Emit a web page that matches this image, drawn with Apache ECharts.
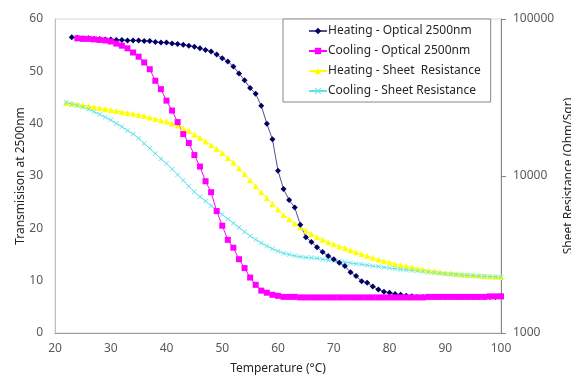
<!DOCTYPE html>
<html>
<head>
<meta charset="utf-8">
<script src="https://cdn.jsdelivr.net/npm/echarts@6/dist/echarts.min.js"></script>
<style>
  html, body { margin: 0; padding: 0; background: #fff; }
  #chart { width: 571px; height: 376px; }
</style>
</head>
<body>
<div id="chart"></div>
<script>
// temperatures (°C)
const heatOptT = [23, 24, 25, 26, 27, 28, 29, 30, 31, 32, 33, 34, 35, 36, 37, 38, 39, 40, 41, 42, 43, 44, 45, 46, 47, 48, 49, 50, 51, 52, 53, 54, 55, 56, 57, 58, 59, 60, 61, 62, 63, 64, 65, 66, 67, 68, 69, 70, 71, 72, 73, 74, 75, 76, 77, 78, 79, 80, 81, 82, 83, 84, 85, 86, 87, 88, 89, 90, 91, 92, 93, 94, 95, 96, 97, 98, 99, 100];
const coolOptT = [24, 25, 26, 27, 28, 29, 30, 31, 32, 33, 34, 35, 36, 37, 38, 39, 40, 41, 42, 43, 44, 45, 46, 47, 48, 49, 50, 51, 52, 53, 54, 55, 56, 57, 58, 59, 60, 61, 62, 63, 64, 65, 66, 67, 68, 69, 70, 71, 72, 73, 74, 75, 76, 77, 78, 79, 80, 81, 82, 83, 84, 85, 86, 87, 88, 89, 90, 91, 92, 93, 94, 95, 96, 97, 98, 99, 100];
const sheetT = [22, 23, 24, 25, 26, 27, 28, 29, 30, 31, 32, 33, 34, 35, 36, 37, 38, 39, 40, 41, 42, 43, 44, 45, 46, 47, 48, 49, 50, 51, 52, 53, 54, 55, 56, 57, 58, 59, 60, 61, 62, 63, 64, 65, 66, 67, 68, 69, 70, 71, 72, 73, 74, 75, 76, 77, 78, 79, 80, 81, 82, 83, 84, 85, 86, 87, 88, 89, 90, 91, 92, 93, 94, 95, 96, 97, 98, 99, 100];

// transmission at 2500nm (%)
const heatOpt = [56.5, 56.4, 56.3, 56.3, 56.2, 56.2, 56.1, 56.1, 56.0, 56.0, 55.9, 55.9, 55.9, 55.8, 55.8, 55.6, 55.5, 55.5, 55.3, 55.2, 55.1, 54.9, 54.7, 54.4, 54.1, 53.8, 53.2, 52.5, 51.9, 50.9, 49.6, 48.3, 46.8, 45.7, 43.4, 40.0, 37.0, 31.0, 27.5, 25.4, 24.0, 20.7, 18.3, 17.4, 16.4, 15.5, 14.7, 14.1, 13.4, 12.8, 11.6, 10.9, 9.9, 9.6, 8.9, 8.3, 7.9, 7.7, 7.45, 7.3, 7.1, 7.0, 6.9, 6.9, 6.9, 6.9, 6.9, 6.9, 6.9, 6.9, 6.9, 6.9, 6.9, 6.9, 6.9, 6.9, 6.9, 7.0];
const coolOpt = [56.3, 56.2, 56.2, 56.1, 56.0, 55.9, 55.7, 55.3, 54.9, 54.4, 53.6, 52.8, 51.7, 50.4, 48.2, 46.6, 44.4, 42.5, 40.3, 38.0, 36.3, 34.0, 31.8, 29.0, 26.9, 23.3, 20.5, 17.8, 16.3, 14.1, 12.4, 10.6, 9.2, 8.1, 7.7, 7.3, 7.1, 6.9, 6.9, 6.9, 6.8, 6.8, 6.8, 6.8, 6.8, 6.8, 6.8, 6.8, 6.8, 6.8, 6.8, 6.8, 6.8, 6.8, 6.8, 6.8, 6.8, 6.8, 6.8, 6.8, 6.8, 6.8, 6.8, 6.9, 6.9, 6.9, 6.9, 6.9, 6.9, 6.9, 6.9, 6.9, 6.9, 6.9, 7.0, 7.0, 7.0];

// sheet resistance (Ohm/Sqr)
const heatSheet = [29200, 28900, 28600, 28250, 27900, 27500, 27100, 26700, 26300, 25900, 25600, 25200, 24900, 24500, 24100, 23600, 23100, 22600, 22200, 21600, 21000, 20200, 19400, 18400, 17500, 16600, 15700, 14900, 14000, 13000, 12200, 11200, 10300, 9400, 8610, 7890, 7240, 6640, 6110, 5650, 5310, 4990, 4710, 4490, 4270, 4070, 3930, 3790, 3670, 3560, 3470, 3370, 3270, 3180, 3100, 3020, 2940, 2870, 2810, 2750, 2700, 2660, 2620, 2580, 2540, 2500, 2470, 2440, 2420, 2400, 2380, 2360, 2340, 2330, 2320, 2300, 2290, 2280, 2270];
const coolSheet = [29400, 28800, 28100, 27400, 26600, 25700, 24700, 23700, 22700, 21600, 20600, 19500, 18500, 17400, 16100, 15000, 13900, 12900, 12000, 11100, 10200, 9380, 8590, 7930, 7380, 6920, 6470, 6070, 5690, 5330, 5000, 4700, 4420, 4150, 3940, 3750, 3580, 3440, 3320, 3220, 3160, 3100, 3060, 3030, 3010, 2990, 2950, 2920, 2880, 2850, 2830, 2790, 2760, 2740, 2700, 2670, 2650, 2620, 2590, 2570, 2540, 2520, 2500, 2480, 2460, 2440, 2420, 2400, 2380, 2370, 2360, 2340, 2330, 2320, 2310, 2300, 2290, 2280, 2270];

const names = ['Heating - Optical 2500nm', 'Cooling - Optical 2500nm', 'Heating - Sheet  Resistance', 'Cooling - Sheet Resistance'];

const pairs = (xs, ys) => xs.map((x, i) => [x, ys[i]]);

const font = 'Noto Sans';
const labelColor = '#595959';
const crossPath = 'path://M0,1 L1,0 L5,4 L9,0 L10,1 L6,5 L10,9 L9,10 L5,6 L1,10 L0,9 L4,5 Z';

const chart = echarts.init(document.getElementById('chart'));
chart.setOption({
  animation: false,
  textStyle: { fontFamily: font },
  grid: {
    left: 55, right: 70, top: 19, bottom: 43,
    outerBoundsMode: 'none', containLabel: false,
    show: true, borderColor: '#d9d9d9', borderWidth: 1
  },
  legend: {
    data: names,
    orient: 'vertical',
    left: 283, top: 19,
    width: 218,
    itemWidth: 18, itemHeight: 8,
    itemGap: 8,
    padding: [6, 10, 5, 25],
    backgroundColor: '#fff',
    borderColor: '#868686', borderWidth: 1,
    textStyle: { fontFamily: font, fontSize: 12, color: '#262626', padding: [0, 0, 0, -4] }
  },
  xAxis: {
    type: 'value', min: 20, max: 100, interval: 10,
    name: 'Temperature (°C)', nameLocation: 'middle', nameGap: 30, nameMoveOverlap: false,
    nameTextStyle: { fontSize: 12, color: '#262626' },
    axisLine: { lineStyle: { color: '#9a9a9a' } },
    axisTick: { show: false },
    axisLabel: { fontSize: 12, color: labelColor, margin: 10 },
    splitLine: { show: false }
  },
  yAxis: [
    {
      type: 'value', min: 0, max: 60, interval: 10,
      name: 'Transmisison at 2500nm', nameLocation: 'middle', nameGap: 28, nameMoveOverlap: false,
      nameTextStyle: { fontSize: 12, color: '#262626' },
      axisLine: { show: true, lineStyle: { color: '#bfbfbf' } },
      axisTick: { show: false },
      axisLabel: { fontSize: 12, color: labelColor, margin: 12 },
      splitLine: { show: false }
    },
    {
      type: 'log', logBase: 10, min: 1000, max: 100000,
      position: 'right',
      name: 'Sheet Resistance (Ohm/Sqr)', nameLocation: 'middle', nameGap: 62, nameRotate: 90, nameMoveOverlap: false,
      nameTextStyle: { fontSize: 12, color: '#262626' },
      axisLine: { show: true, lineStyle: { color: '#868686' } },
      axisTick: { show: true, length: 5, lineStyle: { color: '#868686' } },
      minorTick: { show: false },
      axisLabel: { fontSize: 12, color: labelColor, margin: 12, formatter: v => String(Math.round(v)) },
      splitLine: { show: false }
    }
  ],
  series: [
    {
      name: names[2], type: 'line', yAxisIndex: 1,
      data: pairs(sheetT, heatSheet),
      symbol: 'triangle', symbolSize: 6,
      itemStyle: { color: '#ffff00' },
      lineStyle: { color: '#ffff00', width: 1 }
    },
    {
      name: names[3], type: 'line', yAxisIndex: 1,
      data: pairs(sheetT, coolSheet),
      symbol: crossPath, symbolSize: 5,
      itemStyle: { color: '#5fe3e8' },
      lineStyle: { color: '#5fe3e8', width: 1 }
    },
    {
      name: names[0], type: 'line', yAxisIndex: 0,
      data: pairs(heatOptT, heatOpt),
      symbol: 'diamond', symbolSize: 6,
      itemStyle: { color: '#000066' },
      lineStyle: { color: '#50508a', width: 1 }
    },
    {
      name: names[1], type: 'line', yAxisIndex: 0,
      data: pairs(coolOptT, coolOpt),
      symbol: 'rect', symbolSize: 6,
      itemStyle: { color: '#ff00ff' },
      lineStyle: { color: '#ff00ff', width: 1 }
    }
  ]
});
</script>
</body>
</html>
